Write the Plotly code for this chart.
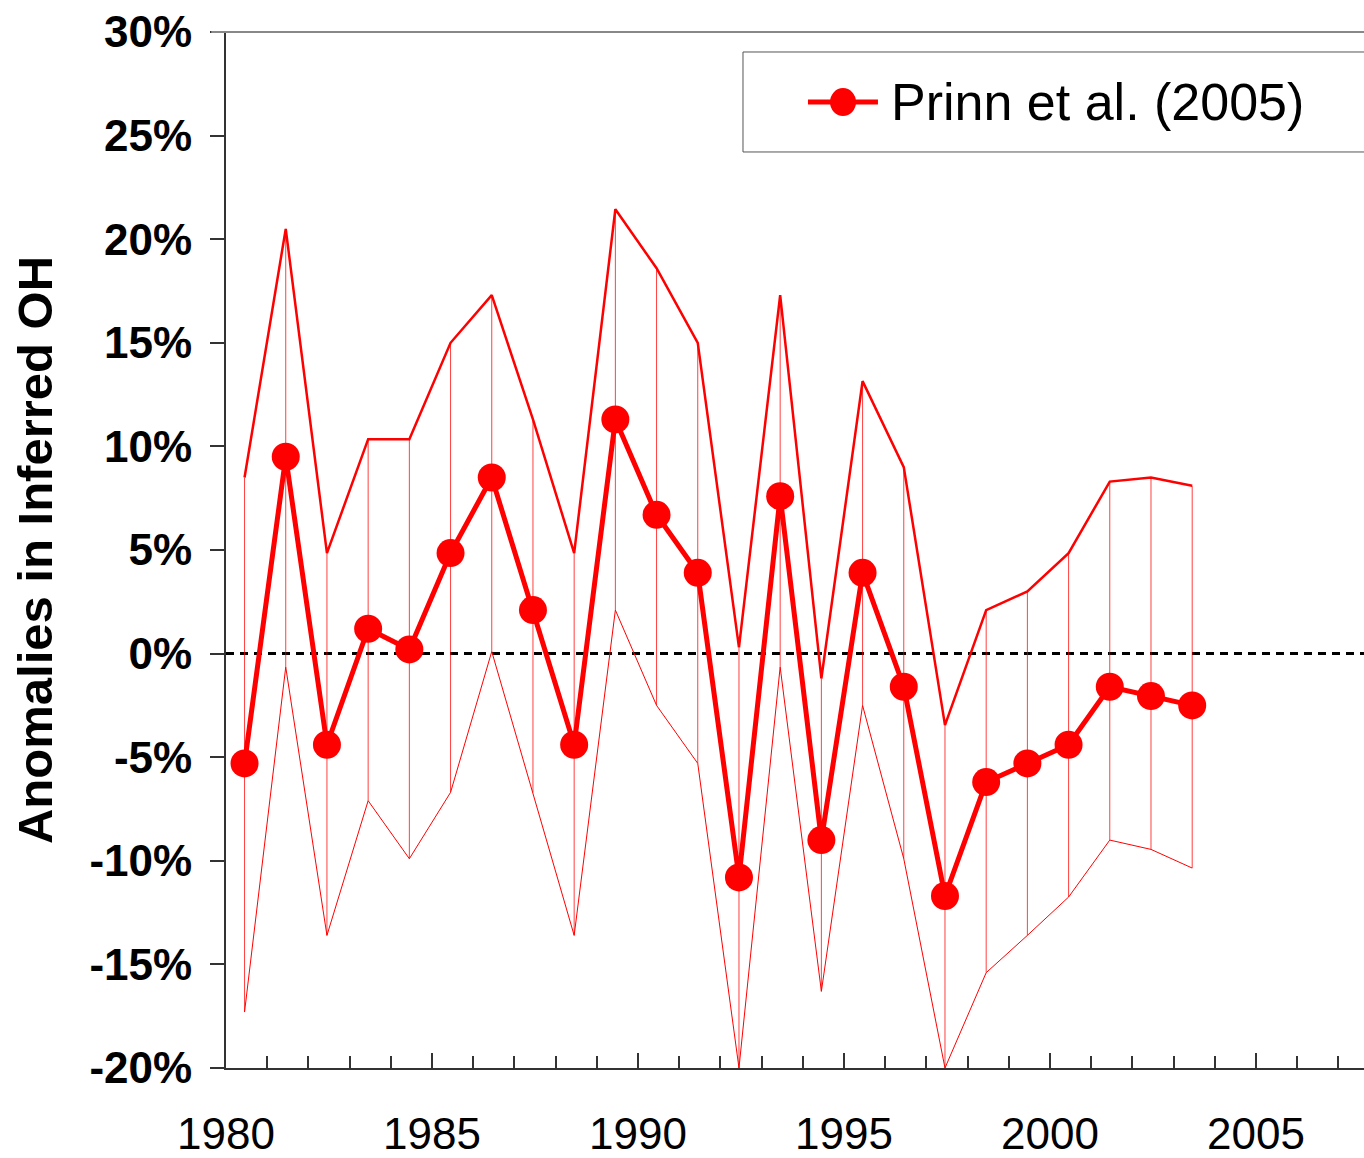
import plotly.graph_objects as go

years = [1980.45 + i for i in range(24)]
center = [-5.3, 9.5, -4.4, 1.2, 0.2, 4.85, 8.5, 2.1, -4.4, 11.3, 6.7, 3.9,
          -10.8, 7.6, -9.0, 3.9, -1.6, -11.7, -6.2, -5.3, -4.4, -1.6, -2.05, -2.5]
upper = [8.5, 20.5, 4.85, 10.35, 10.35, 15.0, 17.3, 11.3, 4.85, 21.45, 18.6, 15.0,
         0.3, 17.3, -1.2, 13.15, 9.0, -3.45, 2.1, 3.0, 4.85, 8.3, 8.5, 8.1]
lower = [-17.3, -0.65, -13.6, -7.1, -9.9, -6.7, 0.1, -6.7, -13.6, 2.1, -2.5, -5.3,
         -20.0, -0.65, -16.3, -2.5, -9.9, -20.0, -15.4, -13.6, -11.75, -9.0, -9.45, -10.35]

y_ticks = [-20, -15, -10, -5, 0, 5, 10, 15, 20, 25, 30]
y_ticktext = ["-20%", "-15%", "-10%", "-5%", "0%", "5%", "10%", "15%", "20%", "25%", "30%"]
x_ticks = [1980, 1985, 1990, 1995, 2000, 2005]
x_ticktext = ["1980", "1985", "1990", "1995", "2000", "2005"]
series_name = "Prinn et al. (2005)"

FONT = "Liberation Sans, Arial, sans-serif"
RED = "#ff0000"

fig = go.Figure()

# vertical uncertainty lines
fig.add_trace(go.Scatter(
    x=years, y=center, mode="markers",
    marker=dict(size=1, opacity=0),
    error_y=dict(type="data", symmetric=False,
                 array=[u - c for u, c in zip(upper, center)],
                 arrayminus=[c - l for c, l in zip(center, lower)],
                 width=0, thickness=1, color="rgba(255,0,0,0.75)"),
    showlegend=False, hoverinfo="skip"))

fig.add_trace(go.Scatter(x=years, y=upper, mode="lines",
                         line=dict(color=RED, width=2.5), showlegend=False))
fig.add_trace(go.Scatter(x=years, y=lower, mode="lines",
                         line=dict(color=RED, width=1), showlegend=False))
fig.add_trace(go.Scatter(x=years, y=center, mode="lines+markers",
                         name=series_name, showlegend=False,
                         line=dict(color=RED, width=5),
                         marker=dict(color=RED, size=28)))

# zero line (dotted) and top border
fig.add_shape(type="line", xref="paper", yref="y", x0=0, x1=1, y0=0, y1=0,
              line=dict(color="black", width=3, dash="8px,6px"), layer="below")
fig.add_shape(type="line", xref="paper", yref="paper", x0=-0.013, x1=1, y0=1, y1=1,
              line=dict(color="#888888", width=2))

# legend box (drawn to match the reference's wide legend)
fig.add_shape(type="rect", xref="paper", yref="paper", x0=0.4543, x1=1.01,
              y0=0.8842, y1=0.9807, line=dict(color="#555555", width=1),
              fillcolor="white")
fig.add_shape(type="line", xref="paper", yref="paper", x0=0.5114, x1=0.5729,
              y0=0.9324, y1=0.9324, line=dict(color=RED, width=5))
fig.add_shape(type="circle", xref="paper", yref="paper",
              xsizemode="pixel", ysizemode="pixel", xanchor=0.5422, yanchor=0.9324,
              x0=-13, x1=13, y0=-14, y1=14, fillcolor=RED, line=dict(width=0))
fig.add_annotation(text=series_name, xref="paper", yref="paper", x=0.5822, y=0.9324,
                   xanchor="left", yanchor="middle", showarrow=False,
                   font=dict(size=52, family=FONT, color="black"))

fig.update_layout(
    width=1364, height=1158,
    margin=dict(l=226, r=0, t=32, b=90),
    plot_bgcolor="white", paper_bgcolor="white",
    font=dict(family=FONT, color="black"),
    showlegend=False,
    xaxis=dict(range=[1980, 2007.62], tickvals=x_ticks, ticktext=x_ticktext,
               ticks="inside", ticklen=15, tickwidth=1.5, tickcolor="#333",
               minor=dict(dtick=1, tick0=1980, ticks="inside", ticklen=12,
                          tickwidth=1.5, tickcolor="#333"),
               showline=True, linecolor="#333", linewidth=2,
               showgrid=False, zeroline=False, automargin=False,
               tickfont=dict(size=44, family=FONT),
               ticklabelstandoff=26),
    yaxis=dict(range=[-20, 30], tickvals=y_ticks, ticktext=y_ticktext,
               ticks="outside", ticklen=14, tickwidth=1.5, tickcolor="#333",
               showline=True, linecolor="#333", linewidth=2,
               showgrid=False, zeroline=False, automargin=False,
               tickfont=dict(size=44, family=FONT, weight="bold"),
               ticklabelstandoff=9,
               title=dict(text="Anomalies in Inferred OH",
                          font=dict(size=49, family=FONT, weight="bold"),
                          standoff=21)),
)

fig.write_html("out.html")
